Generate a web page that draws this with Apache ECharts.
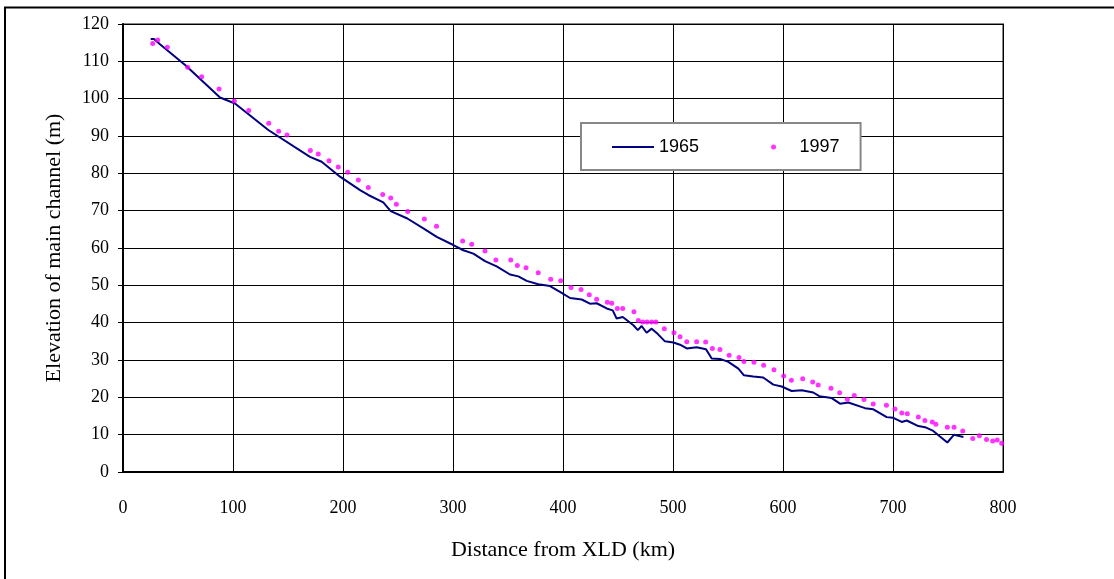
<!DOCTYPE html>
<html>
<head>
<meta charset="utf-8">
<script src="https://cdn.jsdelivr.net/npm/echarts@6/dist/echarts.min.js"></script>
<style>
html,body{margin:0;padding:0;background:#fff;}
#chart{width:1114px;height:579px;}
</style>
</head>
<body>
<div id="chart"></div>
<script>
// ---- data ----
var dist1965 = [25.2,28.2,33.6,57,88.2,101.8,132.1,170,180.6,197.3,215.5,223,236.6,243.4,258.5,274.5,285.2,300.3,309.4,318.5,329.1,339.7,351.8,359.4,367,377.5,388.2,398.8,406.4,417,424.5,430.6,439.7,445.2,448.8,454.3,464,468,471.5,476,480.6,486,492.7,500.3,506.4,512.5,521.5,530,535.2,542.7,550.3,559.4,564.5,573,582,591.2,598.8,607.9,617,627.5,633,644.3,651.8,659.4,674.5,682.1,694.3,700.3,707.9,712.5,723,729.1,736.6,742.7,749.4,755.5,764];
var elev1965 = [116.0,116.0,114.6,108.9,100.3,98.7,91.6,84.4,83.1,79.1,75.5,74.2,72.2,69.9,67.9,65.0,63.0,60.8,59.4,58.5,56.5,55.1,52.9,52.4,51.2,50.3,49.8,48.0,46.6,46.2,45.1,45.2,43.8,43.3,41.1,41.5,39.3,38.0,39.1,37.3,38.4,37.0,35.0,34.7,34.1,33.1,33.4,32.9,30.4,30.3,29.5,27.7,25.9,25.6,25.3,23.4,22.9,21.7,21.9,21.3,20.3,19.8,18.3,18.6,17.1,16.8,14.7,14.5,13.4,13.8,12.3,12.0,11.0,9.5,7.9,10.0,9.4];

var dist1997 = [27,31.5,40.3,58.8,71.5,87.3,101.2,114.3,132.5,141.5,149.1,170.3,177.5,187.3,195.7,204.3,214,223,236.1,243.4,248.5,258.8,274,285,308.8,317,329.1,339,352.5,358.5,366.4,377.5,388.8,397.9,407.3,416.4,423.9,430.6,440.3,444.3,449.4,454.3,464.5,468.5,472.5,476.4,480.6,484.5,492.1,500.9,506.4,512.5,521.5,529.7,535.8,542.7,551,560,564.5,573.6,582.4,591.8,600.6,607.6,617.9,627,632,643.6,651.5,658.5,664.8,673.6,682,694,701.8,708,713,723,729,735.7,739,749.4,755.5,763.4,772.5,778.5,785,790.6,794.8,798.8];
var elev1997 = [114.8,115.7,113.8,108.4,105.9,102.6,99.4,96.8,93.4,91.3,90.3,86.1,85.2,83.4,81.7,80.3,78.2,76.2,74.3,73.4,71.7,69.8,67.8,65.8,61.9,61.0,59.2,56.8,56.8,55.3,54.7,53.4,51.6,51.2,49.4,48.9,47.5,46.3,45.5,45.2,43.8,43.8,42.9,40.6,40.2,40.2,40.2,40.2,38.4,37.3,36.2,34.9,34.9,34.8,33.1,32.8,31.3,30.7,29.6,29.4,28.6,27.4,25.7,24.6,25.0,24.1,23.3,22.4,21.2,19.5,20.5,19.4,18.2,17.9,16.9,15.8,15.6,14.7,13.8,13.4,12.8,12.0,12.0,11.0,9.0,9.7,8.7,8.3,8.6,7.7];

var seriesNames = ['1965','1997'];
var xAxisTitle = 'Distance from XLD (km)';
var yAxisTitle = 'Elevation of main channel (m)';

function pairs(xs, ys){ var out=[]; for(var i=0;i<xs.length;i++){ out.push([xs[i], ys[i]]); } return out; }

var chart = echarts.init(document.getElementById('chart'), null, {renderer:'canvas'});
var serif = 'Liberation Serif, Times New Roman, serif';
var option = {
  backgroundColor:'#ffffff',
  animation:false,
  graphic:[{
    type:'rect', silent:true, z:-1,
    shape:{x:5, y:7.5, width:1200, height:700},
    style:{fill:'none', stroke:'#000', lineWidth:2}
  }],
  grid:{left:123, right:111, top:24, bottom:107, show:true, borderColor:'#888', borderWidth:2, backgroundColor:'transparent'},
  legend:{
    left:581, top:123,
    orient:'horizontal',
    data:[{name:'1965', itemStyle:{opacity:0}},{name:'1997', icon:'circle'}],
    itemWidth:42, itemHeight:5, itemGap:72,
    padding:[15,21,14,30],
    backgroundColor:'#fff', borderColor:'#888', borderWidth:2,
    textStyle:{fontFamily:'Liberation Sans, Arial, sans-serif', fontSize:18, color:'#000'}
  },
  xAxis:{
    type:'value', min:0, max:800, interval:100,
    name:xAxisTitle, nameLocation:'middle', nameGap:67,
    nameTextStyle:{fontFamily:serif, fontSize:22, color:'#000'},
    axisLine:{show:true, lineStyle:{color:'#000', width:2}},
    axisTick:{show:false},
    axisLabel:{margin:27, fontFamily:serif, fontSize:18, color:'#000'},
    splitLine:{show:true, lineStyle:{color:'#000', width:1}}
  },
  yAxis:{
    type:'value', min:0, max:120, interval:10,
    name:yAxisTitle, nameLocation:'middle', nameGap:58,
    nameTextStyle:{fontFamily:serif, fontSize:22, color:'#000'},
    axisLine:{show:true, lineStyle:{color:'#000', width:2}},
    axisTick:{show:true, inside:false, length:5, lineStyle:{color:'#000'}},
    axisLabel:{margin:14, fontFamily:serif, fontSize:18, color:'#000'},
    splitLine:{show:true, lineStyle:{color:'#000', width:1}}
  },
  series:[
    {name:seriesNames[0], type:'line', data:pairs(dist1965, elev1965), symbol:'none', showSymbol:false,
     lineStyle:{color:'#000080', width:2}, itemStyle:{color:'#000080'}, z:2},
    {name:seriesNames[1], type:'scatter', data:pairs(dist1997, elev1997), symbol:'circle', symbolSize:5,
     itemStyle:{color:'#ff00ff'}, z:3}
  ]
};
chart.setOption(option);
</script>
</body>
</html>
